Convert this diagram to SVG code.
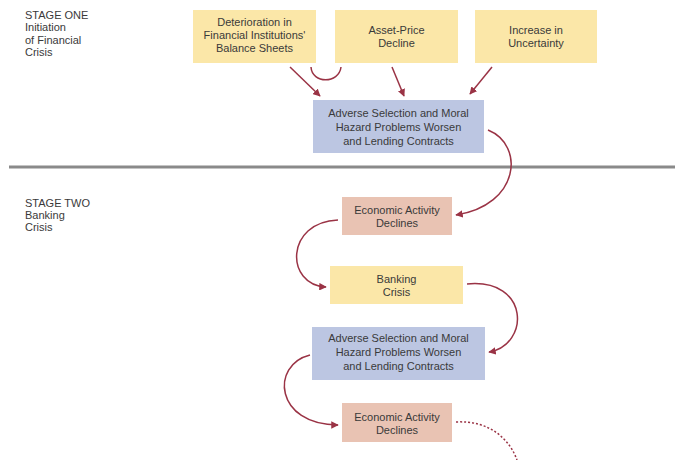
<svg xmlns="http://www.w3.org/2000/svg" width="675" height="460" viewBox="0 0 675 460">
<defs>
<marker id="ah" viewBox="0 0 10 10" refX="9" refY="5" markerWidth="5" markerHeight="5" orient="auto">
<path d="M0,0 L10,5 L0,10 z" fill="#9a3345"/>
</marker>
<style>
text{font-family:"Liberation Sans",Arial,sans-serif;font-size:11px;fill:#3a3a3a}
.c{text-anchor:middle}
.y{fill:#fbe7a8}
.b{fill:#bcc6e2}
.p{fill:#e9c3b3}
.a{fill:none;stroke:#9a3345;stroke-width:1.5;marker-end:url(#ah)}
.n{fill:none;stroke:#9a3345;stroke-width:1.5}
.d{fill:none;stroke:#9a3345;stroke-width:1.5;stroke-dasharray:2 2}
</style>
</defs>
<rect width="675" height="460" fill="#fff"/>
<g id="stage1">
<text x="25" y="19">STAGE ONE</text>
<text x="25" y="31">Initiation</text>
<text x="25" y="44">of Financial</text>
<text x="25" y="56">Crisis</text>
</g>
<g id="stage2">
<text x="25" y="207">STAGE TWO</text>
<text x="25" y="219">Banking</text>
<text x="25" y="231">Crisis</text>
</g>
<line x1="9" y1="167" x2="675" y2="167" stroke="#8a8a8a" stroke-width="3"/>
<g id="n_deterioration">
<rect class="y" x="193" y="10" width="123" height="53"/>
<text class="c" x="254.5" y="26">Deterioration in</text>
<text class="c" x="254.5" y="39">Financial Institutions'</text>
<text class="c" x="254.5" y="52">Balance Sheets</text>
</g>
<g id="n_asset">
<rect class="y" x="335" y="10" width="123" height="53"/>
<text class="c" x="396.5" y="34">Asset-Price</text>
<text class="c" x="396.5" y="47">Decline</text>
</g>
<g id="n_uncertainty">
<rect class="y" x="475" y="10" width="122" height="53"/>
<text class="c" x="536" y="34">Increase in</text>
<text class="c" x="536" y="47">Uncertainty</text>
</g>
<g id="n_adverse1">
<rect class="b" x="313" y="100" width="171" height="53"/>
<text class="c" x="398.5" y="117">Adverse Selection and Moral</text>
<text class="c" x="398.5" y="131">Hazard Problems Worsen</text>
<text class="c" x="398.5" y="145">and Lending Contracts</text>
</g>
<g id="n_econ1">
<rect class="p" x="342" y="197" width="110" height="38"/>
<text class="c" x="397" y="214">Economic Activity</text>
<text class="c" x="397" y="227">Declines</text>
</g>
<g id="n_banking">
<rect class="y" x="330" y="266" width="133" height="38"/>
<text class="c" x="396.5" y="283">Banking</text>
<text class="c" x="396.5" y="296">Crisis</text>
</g>
<g id="n_adverse2">
<rect class="b" x="312" y="327" width="173" height="53"/>
<text class="c" x="398.5" y="342">Adverse Selection and Moral</text>
<text class="c" x="398.5" y="356">Hazard Problems Worsen</text>
<text class="c" x="398.5" y="370">and Lending Contracts</text>
</g>
<g id="n_econ2">
<rect class="p" x="342" y="403" width="110" height="39"/>
<text class="c" x="397" y="421">Economic Activity</text>
<text class="c" x="397" y="434">Declines</text>
</g>
<g id="connectors">
<path class="a" d="M290,67 L320,96"/>
<path class="n" d="M311,67 C312,84 339,84 341,67"/>
<path class="a" d="M392,67 L404,96"/>
<path class="a" d="M492,67 L470,94"/>
<path class="a" d="M488,130 C525,145 520,205 456,215"/>
<path class="a" d="M338,220 C285,222 285,285 326,287"/>
<path class="a" d="M467,284 C530,278 530,345 489,352"/>
<path class="a" d="M310,355 C270,365 275,425 338,425"/>
<path class="d" d="M456,422 C490,420 510,440 517,460"/>
</g>
</svg>
